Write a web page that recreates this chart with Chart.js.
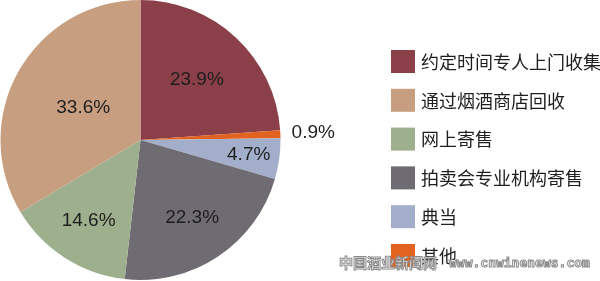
<!DOCTYPE html>
<html>
<head>
<meta charset="utf-8">
<script src="https://cdn.jsdelivr.net/npm/chart.js@4/dist/chart.umd.min.js"></script>
<style>
html,body{margin:0;padding:0;background:#fff;}
#wrap{width:600px;height:281px;position:relative;}
</style>
</head>
<body>
<div id="wrap"><canvas id="c" width="600" height="281"></canvas></div>
<script>
const categories = ['约定时间专人上门收集','其他','典当','拍卖会专业机构寄售','网上寄售','通过烟酒商店回收'];
const values = [23.9, 0.9, 4.7, 22.3, 14.6, 33.6];
const colors = ['#8A3F49','#E2621F','#A3AFCA','#6F6B73','#9EAF8D','#C89E81'];
// legend order as shown in the reference
const legendOrder = ['约定时间专人上门收集','通过烟酒商店回收','网上寄售','拍卖会专业机构寄售','典当','其他'];
// radial position of each value label (fraction of radius)
const labelRadius = [0.59, 1.235, 0.78, 0.665, 0.685, 0.47];

const labelPlugin = {
  id: 'sliceLabels',
  afterDatasetsDraw(chart) {
    const ctx = chart.ctx;
    const meta = chart.getDatasetMeta(0);
    ctx.save();
    ctx.font = '19px "Liberation Sans", Arial, sans-serif';
    ctx.fillStyle = '#1e1e1e';
    ctx.textAlign = 'center';
    ctx.textBaseline = 'middle';
    meta.data.forEach((arc, i) => {
      const p = arc.getProps(['x','y','startAngle','endAngle','outerRadius'], true);
      const mid = (p.startAngle + p.endAngle) / 2;
      const r = p.outerRadius * labelRadius[i];
      ctx.fillText(values[i].toFixed(1) + '%', p.x + Math.cos(mid) * r, p.y + Math.sin(mid) * r);
    });
    ctx.restore();
  }
};

const legendPlugin = {
  id: 'sideLegend',
  afterDraw(chart) {
    const ctx = chart.ctx;
    ctx.save();
    const x0 = 391, y0 = 50, step = 38.8;
    legendOrder.forEach((name, k) => {
      const i = categories.indexOf(name);
      const y = y0 + k * step;
      ctx.fillStyle = colors[i];
      ctx.fillRect(x0, y, 24, 23);
      ctx.fillStyle = '#1e1e1e';
      ctx.font = '18px "Noto Sans CJK SC", sans-serif';
      ctx.textBaseline = 'middle';
      ctx.textAlign = 'left';
      ctx.fillText(name, 421, y + 12);
    });
    // watermark
    ctx.font = 'bold 14px "Noto Sans CJK SC", sans-serif';
    ctx.lineWidth = 1;
    ctx.strokeStyle = '#8a8a8a';
    ctx.fillStyle = 'rgba(255,255,255,0.9)';
    ctx.textBaseline = 'middle';
    ctx.fillText('中国酒业新闻网', 339, 263);
    ctx.strokeText('中国酒业新闻网', 339, 263);
    ctx.font = 'bold 13px "DejaVu Sans Mono", monospace';
    ctx.fillText('www.cnwinenews.com', 449, 264);
    ctx.strokeText('www.cnwinenews.com', 449, 264);
    ctx.restore();
  }
};

new Chart(document.getElementById('c'), {
  type: 'pie',
  data: {
    labels: categories,
    datasets: [{ data: values, backgroundColor: colors, borderWidth: 0 }]
  },
  options: {
    responsive: false,
    animation: false,
    layout: { padding: { left: 0, top: 0, right: 319, bottom: 1 } },
    plugins: { legend: { display: false }, tooltip: { enabled: false } }
  },
  plugins: [labelPlugin, legendPlugin]
});
</script>
</body>
</html>
